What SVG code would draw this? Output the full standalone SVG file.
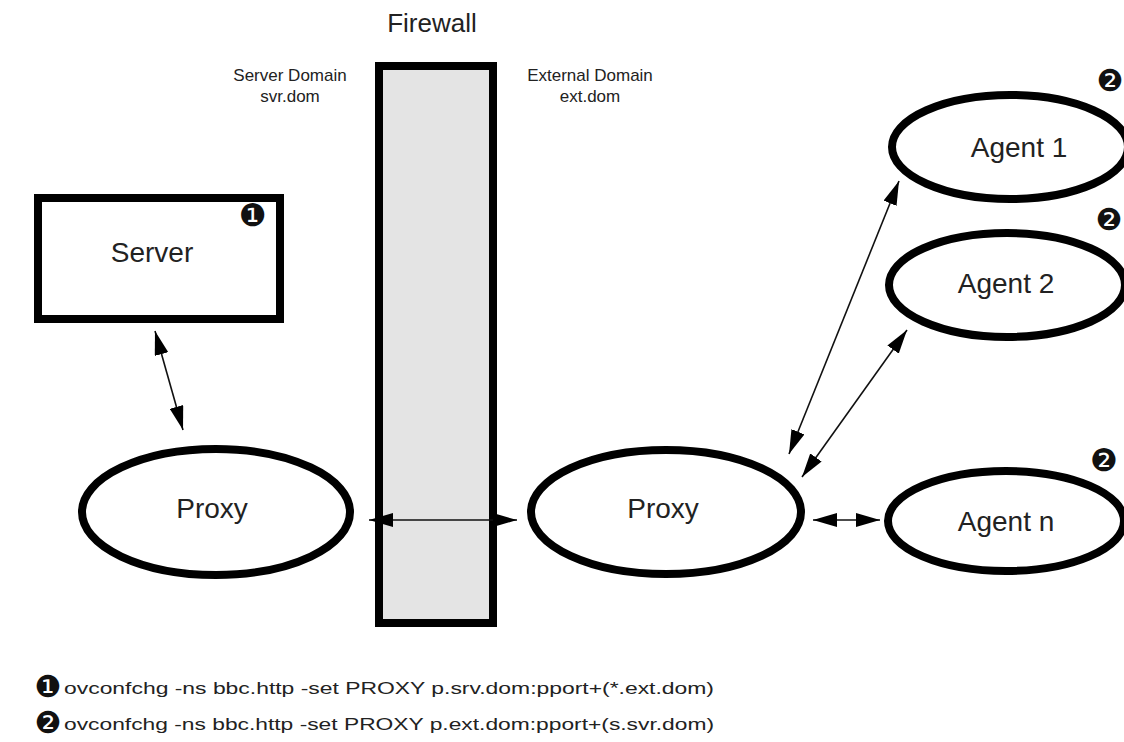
<svg xmlns="http://www.w3.org/2000/svg" width="1124" height="742" viewBox="0 0 1124 742">
<style>
.t{font-family:"Liberation Sans",Arial,sans-serif;fill:#222}
.n{font-family:"DejaVu Sans",sans-serif;fill:#111}
.s{fill:none;stroke:#000;stroke-width:8}
.c{stroke:#111;stroke-width:1.6;fill:none;marker-start:url(#a);marker-end:url(#a)}
</style>
<defs>
<marker id="a" viewBox="0 0 24 14" refX="24" refY="7" markerWidth="24" markerHeight="14" markerUnits="userSpaceOnUse" orient="auto-start-reverse">
<path d="M0,0 L24,7 L0,14 Z" fill="#000"/>
</marker>
</defs>
<rect width="1124" height="742" fill="#fff"/>
<g id="firewall">
<rect x="379" y="66" width="114" height="557" fill="#e4e4e4" stroke="#000" stroke-width="8"/>
<text class="t" x="432" y="32" font-size="26" text-anchor="middle">Firewall</text>
</g>
<g id="domains">
<text class="t" x="290" y="81" font-size="17" text-anchor="middle">Server Domain</text>
<text class="t" x="290" y="102" font-size="17" text-anchor="middle">svr.dom</text>
<text class="t" x="590" y="81" font-size="17" text-anchor="middle">External Domain</text>
<text class="t" x="590" y="102" font-size="17" text-anchor="middle">ext.dom</text>
</g>
<g id="server">
<rect x="38" y="198" width="242" height="121" fill="#fff" stroke="#000" stroke-width="8"/>
<text class="t" x="152" y="262" font-size="28" text-anchor="middle">Server</text>
<text class="n" x="253" y="226" font-size="31" text-anchor="middle">❶</text>
</g>
<g id="proxy-left">
<ellipse class="s" cx="216" cy="512" rx="134" ry="63"/>
<text class="t" x="212" y="518" font-size="28" text-anchor="middle">Proxy</text>
</g>
<g id="proxy-right">
<ellipse class="s" cx="666" cy="512" rx="135" ry="62"/>
<text class="t" x="663" y="518" font-size="28" text-anchor="middle">Proxy</text>
</g>
<g id="agent1">
<ellipse class="s" cx="1010" cy="147" rx="118" ry="52"/>
<text class="t" x="1019" y="157" font-size="28" text-anchor="middle">Agent 1</text>
<text class="n" x="1110" y="91" font-size="30" text-anchor="middle">❷</text>
</g>
<g id="agent2">
<ellipse class="s" cx="1007" cy="285" rx="118" ry="52"/>
<text class="t" x="1006" y="293" font-size="28" text-anchor="middle">Agent 2</text>
<text class="n" x="1109" y="230" font-size="30" text-anchor="middle">❷</text>
</g>
<g id="agentn">
<ellipse class="s" cx="1006" cy="521" rx="118" ry="50"/>
<text class="t" x="1006" y="531" font-size="28" text-anchor="middle">Agent n</text>
<text class="n" x="1104" y="471" font-size="31" text-anchor="middle">❷</text>
</g>
<g id="connectors">
<line class="c" x1="155" y1="331" x2="183" y2="430"/>
<line class="c" x1="369" y1="520" x2="517" y2="520"/>
<line class="c" x1="899" y1="181" x2="789" y2="454"/>
<line class="c" x1="907" y1="330" x2="802" y2="477"/>
<line class="c" x1="813" y1="520" x2="880" y2="520"/>
</g>
<g id="legend">
<text class="n" x="48" y="697" font-size="30" text-anchor="middle">❶</text>
<text class="t" x="64" y="694" font-size="17" textLength="650" lengthAdjust="spacingAndGlyphs">ovconfchg -ns bbc.http -set PROXY p.srv.dom:pport+(*.ext.dom)</text>
<text class="n" x="48" y="733" font-size="30" text-anchor="middle">❷</text>
<text class="t" x="64" y="730" font-size="17" textLength="650" lengthAdjust="spacingAndGlyphs">ovconfchg -ns bbc.http -set PROXY p.ext.dom:pport+(s.svr.dom)</text>
</g>
</svg>
